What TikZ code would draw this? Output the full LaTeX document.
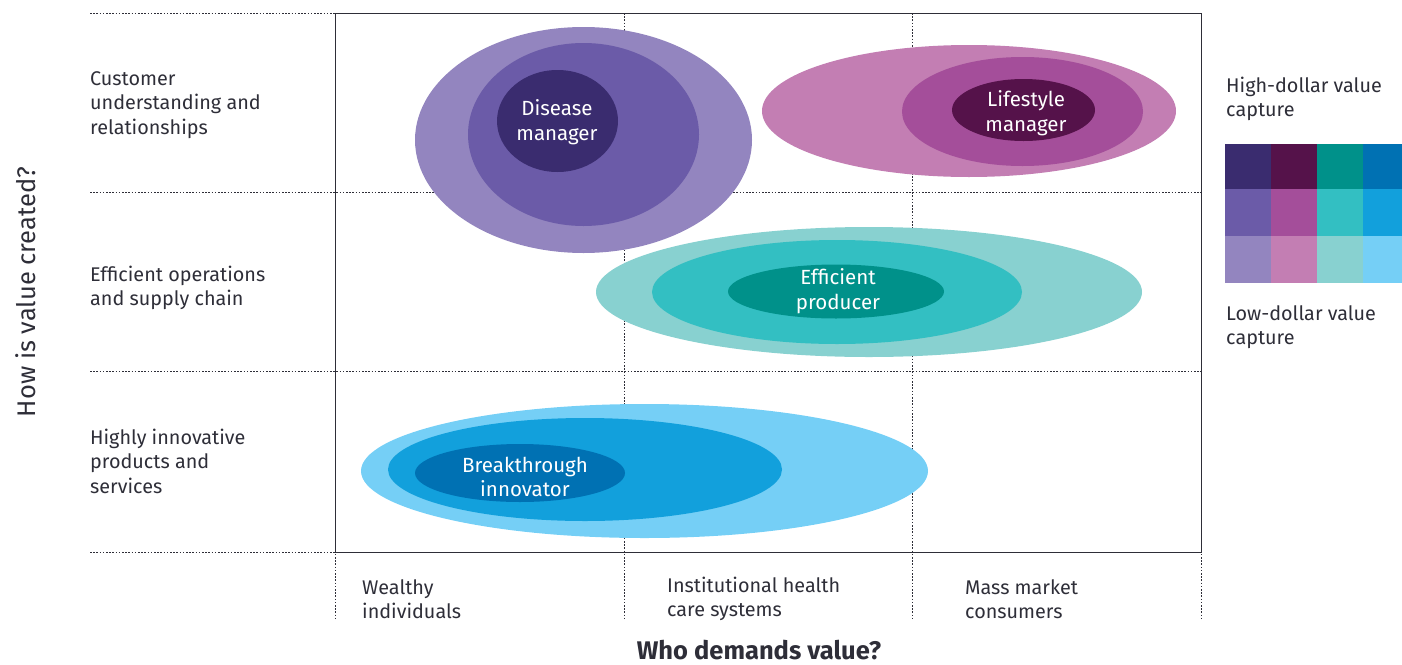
\documentclass[tikz,border=0pt]{standalone}
\usepackage{fontspec}
\setmainfont{Fira Sans}
\definecolor{txt}{HTML}{2E2E38}
\definecolor{dpA}{HTML}{3A2C6F}\definecolor{dpB}{HTML}{6B5BA8}\definecolor{dpC}{HTML}{9385BF}
\definecolor{mgA}{HTML}{55124A}\definecolor{mgB}{HTML}{A44E9A}\definecolor{mgC}{HTML}{C37EB3}
\definecolor{tlA}{HTML}{00918A}\definecolor{tlB}{HTML}{33BFC2}\definecolor{tlC}{HTML}{88D1D0}
\definecolor{blA}{HTML}{0071B3}\definecolor{blB}{HTML}{12A0DC}\definecolor{blC}{HTML}{75CFF6}
\begin{document}
\begin{tikzpicture}[x=1pt,y=-1pt,
  gridline/.style={draw=txt,line width=0.7pt,dash pattern=on 1.6pt off 1.6pt},
  boxline/.style={draw=txt,line width=0.7pt},
  lbl/.style={text=txt,align=left,font=\fontsize{19.8}{24.5}\selectfont,inner sep=0pt},
  inlbl/.style={text=white,align=center,font=\fontsize{20.5}{24.5}\selectfont,inner sep=0pt},
  axis/.style={text=txt,inner sep=0pt}]
\useasboundingbox (0,0) rectangle (1402,664);
% grid
\foreach \y in {13,192,371,552} \draw[gridline] (90,\y) -- (1201,\y);
\foreach \x in {335,624,912,1201} \draw[gridline] (\x,13) -- (\x,620);
\draw[boxline] (335,13) rectangle (1201,552);
% efficient producer
\fill[tlC] (869,292) ellipse [x radius=273pt, y radius=65pt];
\fill[tlB] (837,292) ellipse [x radius=185pt, y radius=52pt];
\fill[tlA] (836,291.5) ellipse [x radius=108pt, y radius=27pt];
% disease manager
\fill[dpC] (583.5,140) ellipse [x radius=168.5pt, y radius=113pt];
\fill[dpB] (583.5,134.5) ellipse [x radius=115.5pt, y radius=91.5pt];
\fill[dpA] (557.5,121) ellipse [x radius=60.5pt, y radius=51pt];
% lifestyle manager
\fill[mgC] (969,111) ellipse [x radius=207pt, y radius=66pt];
\fill[mgB] (1022.5,111.5) ellipse [x radius=120.5pt, y radius=54.5pt];
\fill[mgA] (1023.5,110) ellipse [x radius=71.5pt, y radius=31pt];
% breakthrough innovator
\fill[blC] (644.5,471) ellipse [x radius=283.5pt, y radius=67pt];
\fill[blB] (585,469.5) ellipse [x radius=197pt, y radius=51.5pt];
\fill[blA] (520,473) ellipse [x radius=105pt, y radius=29pt];
% ellipse labels
\node[inlbl] (dm) at (557,122) {Disease\\manager};
\node[inlbl] (lm) at (1026,113) {Lifestyle\\manager};
\node[inlbl] (ep) at (838,291) {Efficient\\producer};
\node[inlbl] (bi) at (525,477) {Breakthrough\\innovator};
% row labels
\node[lbl,anchor=west] (r1) at (90,105) {Customer\\understanding and\\relationships};
\node[lbl,anchor=west] (r2) at (90,288) {Efficient operations\\and supply chain};
\node[lbl,anchor=west] (r3) at (90,461) {Highly innovative\\products and\\services};
% column labels
\node[lbl,anchor=west] (c1) at (362,599) {Wealthy\\individuals};
\node[lbl,anchor=west] (c2) at (667,599) {Institutional health\\care systems};
\node[lbl,anchor=west] (c3) at (965,599) {Mass market\\consumers};
% axis titles
\node[axis,anchor=base,font=\fontsize{25.5}{28}\selectfont\bfseries] (xt) at (759,659) {Who demands value?};
\node[axis,rotate=90,font=\fontsize{25.5}{28}\selectfont] (yt) at (26,292) {How is value created?};
% legend
\node[lbl,anchor=west] (hi) at (1226,99) {High-dollar value\\capture};
\node[lbl,anchor=west] (lo) at (1226,327) {Low-dollar value\\capture};
\fill[dpA] (1225,144) rectangle (1271,189);
\fill[mgA] (1271,144) rectangle (1317,189);
\fill[tlA] (1317,144) rectangle (1363,189);
\fill[blA] (1363,144) rectangle (1402,189);
\fill[dpB] (1225,189) rectangle (1271,236);
\fill[mgB] (1271,189) rectangle (1317,236);
\fill[tlB] (1317,189) rectangle (1363,236);
\fill[blB] (1363,189) rectangle (1402,236);
\fill[dpC] (1225,236) rectangle (1271,283);
\fill[mgC] (1271,236) rectangle (1317,283);
\fill[tlC] (1317,236) rectangle (1363,283);
\fill[blC] (1363,236) rectangle (1402,283);
\end{tikzpicture}
\end{document}
